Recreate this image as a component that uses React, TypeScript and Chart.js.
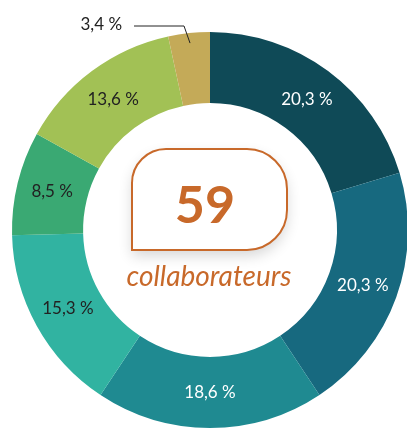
import { useEffect, useRef } from 'react';
import { Chart, registerables } from 'chart.js';

Chart.register(...registerables);

const categories = ['Groupe 1', 'Groupe 2', 'Groupe 3', 'Groupe 4', 'Groupe 5', 'Groupe 6', 'Groupe 7'];
const counts = [12, 12, 11, 9, 5, 8, 2];
const colors = ['#0f4a57', '#17697f', '#1f8a91', '#31b3a1', '#3aa973', '#a2c155', '#c4aa58'];
const labelColors = ['#ffffff', '#ffffff', '#ffffff', '#222222', '#222222', '#222222', '#222222'];
const centerCaption = 'collaborateurs';

const ORANGE = '#c8692a';

export default function App() {
  const ref = useRef<HTMLCanvasElement>(null);

  useEffect(() => {
    if (!ref.current) return;
    const total = counts.reduce((a, b) => a + b, 0);
    const fmt = (v: number) => ((v / total) * 100).toFixed(1).replace('.', ',') + ' %';

    const labelPlugin = {
      id: 'labelPlugin',
      afterDatasetsDraw(chart: any) {
        const ctx: CanvasRenderingContext2D = chart.ctx;
        const meta = chart.getDatasetMeta(0);
        let cx = 0, cy = 0;
        ctx.save();
        meta.data.forEach((arc: any, i: number) => {
          const p = arc.getProps(['x', 'y', 'startAngle', 'endAngle', 'innerRadius', 'outerRadius'], true);
          cx = p.x; cy = p.y;
          const mid = (p.startAngle + p.endAngle) / 2;
          const text = fmt(counts[i]);
          ctx.font = '17px Lato';
          if (counts[i] / total < 0.05) {
            const r0 = p.outerRadius - 10;
            const x0 = p.x + Math.cos(mid) * r0;
            const y0 = p.y + Math.sin(mid) * r0;
            const yE = p.y - p.outerRadius - 6;
            const xE = x0 - 6;
            ctx.strokeStyle = '#222222';
            ctx.lineWidth = 1;
            ctx.beginPath();
            ctx.moveTo(x0, y0);
            ctx.lineTo(xE, yE);
            ctx.lineTo(xE - 50, yE);
            ctx.stroke();
            ctx.fillStyle = labelColors[i];
            ctx.textAlign = 'right';
            ctx.textBaseline = 'middle';
            ctx.fillText(text, xE - 62, yE - 1);
          } else {
            const r = (p.innerRadius + p.outerRadius) / 2;
            ctx.fillStyle = labelColors[i];
            ctx.textAlign = 'center';
            ctx.textBaseline = 'middle';
            ctx.fillText(text, p.x + Math.cos(mid) * r, p.y + Math.sin(mid) * r);
          }
        });

        // center bubble
        const left = cx - 78, top = cy - 81, right = cx + 77, bottom = cy + 20;
        const rTL = 34, rR = 40;
        const path = () => {
          ctx.beginPath();
          ctx.moveTo(left, bottom);
          ctx.lineTo(left, top + rTL);
          ctx.arcTo(left, top, left + rTL, top, rTL);
          ctx.lineTo(right - rR, top);
          ctx.arcTo(right, top, right, top + rR, rR);
          ctx.lineTo(right, bottom - rR);
          ctx.arcTo(right, bottom, right - rR, bottom, rR);
          ctx.lineTo(left, bottom);
          ctx.closePath();
        };
        ctx.save();
        ctx.shadowColor = 'rgba(0,0,0,0.16)';
        ctx.shadowBlur = 14;
        ctx.shadowOffsetY = 6;
        path();
        ctx.fillStyle = '#ffffff';
        ctx.fill();
        ctx.restore();
        path();
        ctx.strokeStyle = ORANGE;
        ctx.lineWidth = 2;
        ctx.stroke();

        ctx.fillStyle = ORANGE;
        ctx.textAlign = 'center';
        ctx.textBaseline = 'alphabetic';
        ctx.font = 'bold 52px Lato';
        ctx.fillText(String(total), cx - 5, cy - 7);
        ctx.font = 'italic 28px Lato';
        ctx.fillText(centerCaption, cx - 1, cy + 56);
        ctx.restore();
      },
    };

    const chart = new Chart(ref.current, {
      type: 'doughnut',
      data: {
        labels: categories,
        datasets: [{
          data: counts,
          backgroundColor: colors,
          borderWidth: 0,
        }],
      },
      options: {
        responsive: false,
        animation: false,
        cutout: '64.1%',
        layout: { padding: { left: 12, right: 12, top: 32, bottom: 12 } },
        plugins: { legend: { display: false }, tooltip: { enabled: false } },
      },
      plugins: [labelPlugin],
    });
    return () => chart.destroy();
  }, []);

  return (
    <div style={{ position: 'fixed', left: 0, top: 0, width: 407, height: 428, overflow: 'hidden', background: '#ffffff' }}>
      <canvas ref={ref} width={420} height={440} style={{ display: 'block', width: 420, height: 440 }} />
    </div>
  );
}
